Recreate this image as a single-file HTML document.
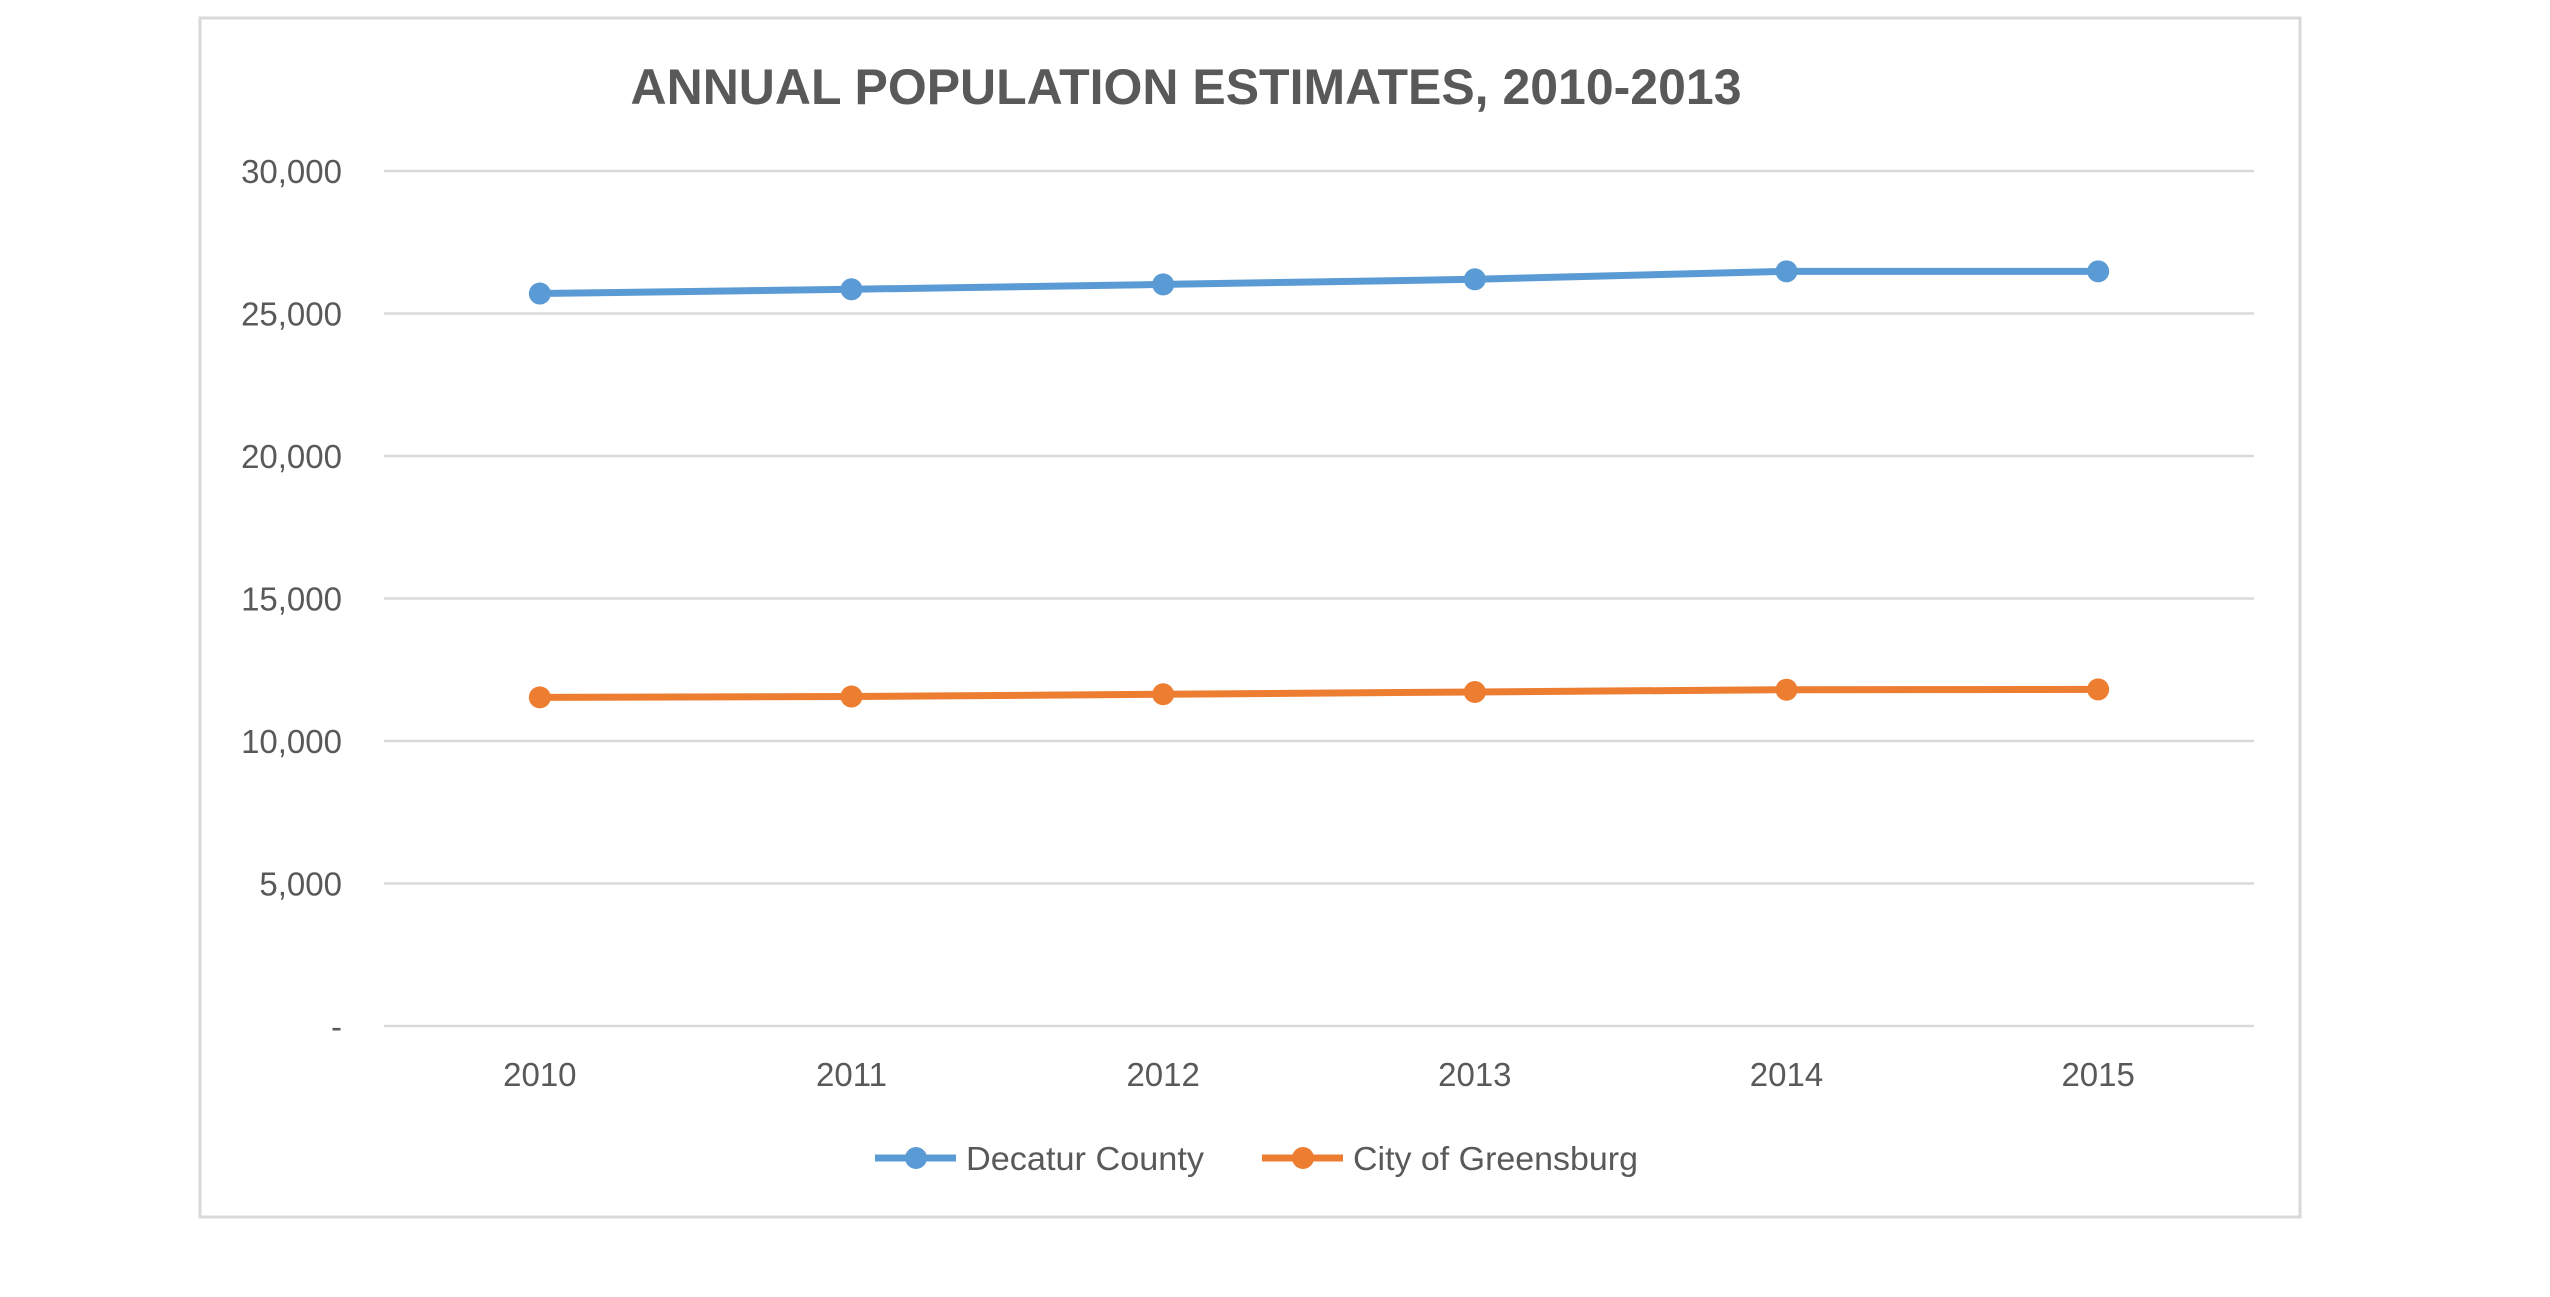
<!DOCTYPE html>
<html><head><meta charset="utf-8"><style>
html,body{margin:0;padding:0;background:#fff;}
svg{display:block;font-family:"Liberation Sans",sans-serif;}
</style></head><body>
<svg id="c" width="2550" height="1297">
<rect x="200" y="18" width="2100" height="1199" fill="#fff" stroke="#d9d9d9" stroke-width="3"/>
<text x="1186" y="104" text-anchor="middle" font-size="50" font-weight="bold" fill="#595959" textLength="1111" lengthAdjust="spacingAndGlyphs">ANNUAL POPULATION ESTIMATES, 2010-2013</text>
<g id="grid"></g><g id="series"></g>
<g>
<g>
<line x1="875" y1="1158" x2="956" y2="1158" stroke="#5b9bd5" stroke-width="7"/>
<circle cx="916" cy="1158" r="11" fill="#5b9bd5"/>
<text x="966" y="1170" font-size="33" fill="#595959" textLength="238" lengthAdjust="spacingAndGlyphs">Decatur County</text></g>
<g>
<line x1="1262" y1="1158" x2="1343" y2="1158" stroke="#ed7d31" stroke-width="7"/>
<circle cx="1303" cy="1158" r="11" fill="#ed7d31"/>
<text x="1353" y="1170" font-size="33" fill="#595959" textLength="285" lengthAdjust="spacingAndGlyphs">City of Greensburg</text></g>
</g>
</svg>
<script>
const categories=["2010","2011","2012","2013","2014","2015"];
const decatur=[25700,25850,26020,26200,26480,26480];
const greensburg=[11530,11560,11640,11720,11800,11810];
const yTicks=[0,5000,10000,15000,20000,25000,30000];
const yTickLabels=["-","5,000","10,000","15,000","20,000","25,000","30,000"];
const NS="http://www.w3.org/2000/svg";
const L=384,R=2254,T=171,B=1026,yMax=30000;
const xs=i=>L+(R-L)*(i+0.5)/categories.length;
const ys=v=>B-(B-T)*v/yMax;
function mk(t,a,p){const e=document.createElementNS(NS,t);for(const k in a)e.setAttribute(k,a[k]);p.appendChild(e);return e;}
const grid=document.getElementById('grid');
yTicks.forEach((v,i)=>{
 const g=mk('line',{x1:L,x2:R,y1:ys(v),y2:ys(v),stroke:'#d9d9d9','stroke-width':2.5},grid);
 
 
 const t=mk('text',{x:342,y:ys(v)+12,'text-anchor':'end','font-size':33,fill:'#595959'},grid);
 t.textContent=yTickLabels[i];
 
 
});
categories.forEach((c,i)=>{
 const t=mk('text',{x:xs(i),y:1086,'text-anchor':'middle','font-size':33,fill:'#595959'},grid);
 t.textContent=c;
 
 
});
const sg=document.getElementById('series');
[[decatur,'#5b9bd5','decatur'],[greensburg,'#ed7d31','greensburg']].forEach(([d,col,n])=>{
 const p=mk('polyline',{points:d.map((v,i)=>xs(i)+','+ys(v)).join(' '),fill:'none',stroke:col,'stroke-width':7,'stroke-linejoin':'round'},sg);
 
 
 d.forEach((v,i)=>{
  const c=mk('circle',{cx:xs(i),cy:ys(v),r:11,fill:col},sg);
  
  
 });
});
</script>
</body></html>
